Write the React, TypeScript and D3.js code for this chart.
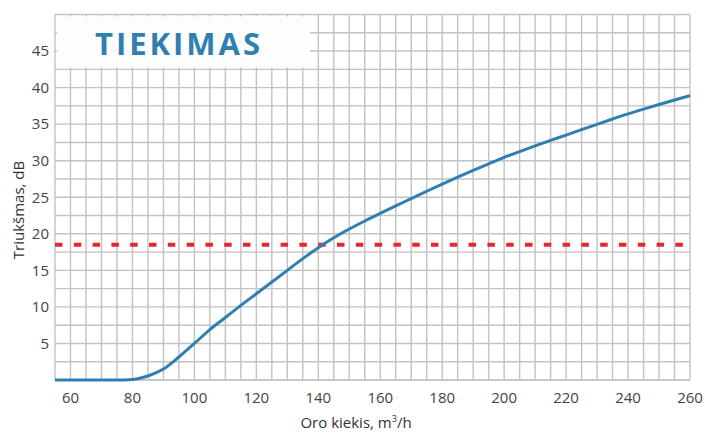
import React from "react";
import * as d3 from "d3";

const airflow = [55, 60, 65, 70, 75, 80, 85, 90, 95, 100, 105, 110, 115, 120, 125, 130, 135, 140, 145, 150, 155, 160, 165, 170, 175, 180, 185, 190, 195, 200, 205, 210, 215, 220, 225, 230, 235, 240, 245, 250, 255, 260];
const noise = [0, 0, 0, 0, 0, 0.08, 0.55, 1.5, 3.15, 5.0, 6.9, 8.55, 10.2, 11.8, 13.4, 15.0, 16.6, 18.1, 19.45, 20.65, 21.75, 22.8, 23.82, 24.82, 25.82, 26.8, 27.75, 28.67, 29.57, 30.45, 31.25, 32.03, 32.78, 33.5, 34.25, 34.98, 35.7, 36.4, 37.05, 37.68, 38.3, 38.9];
const limitLevel = 18.5;
const xTicks = [60, 80, 100, 120, 140, 160, 180, 200, 220, 240, 260];
const yTicks = [5, 10, 15, 20, 25, 30, 35, 40, 45];
const title = "TIEKIMAS";
const xTitle = "Oro kiekis, m";
const yTitle = "Triukšmas, dB";

export default function App() {
  const W = 705, H = 433;
  const x = d3.scaleLinear().domain([55, 260]).range([55, 690]);
  const y = d3.scaleLinear().domain([0, 50]).range([380, 14.5]);
  const xGrid = d3.range(55, 260.01, 5);
  const yGrid = d3.range(0, 50.01, 2.5);
  const line = d3
    .line<number>()
    .x((_, i) => x(airflow[i]))
    .y((d) => y(d))
    .curve(d3.curveMonotoneX);
  const font = "'Open Sans', 'Noto Sans', sans-serif";
  return (
    <svg
      width={W}
      height={H}
      style={{ position: "absolute", left: 0, top: 0, background: "#fff" }}
      fontFamily={font}
    >
      <g stroke="#c2c2c2" strokeWidth={1.4}>
        {xGrid.map((v) => (
          <line key={"gx" + v} x1={x(v)} x2={x(v)} y1={y(50)} y2={y(0)} />
        ))}
        {yGrid.map((v) => (
          <line key={"gy" + v} x1={x(55)} x2={x(260)} y1={y(v)} y2={y(v)} />
        ))}
      </g>
      <line x1={x(55)} x2={x(260)} y1={y(0)} y2={y(0)} stroke="#c8c8c8" strokeWidth={2} />
      <rect x={57} y={16.5} width={253} height={51} fill="#fdfdfd" />
      <text
        x={179}
        y={55}
        textAnchor="middle"
        fontSize={31}
        fontWeight={700}
        letterSpacing={3}
        fill="#2f80b1"
      >
        {title}
      </text>
      <line
        x1={x(55)}
        x2={683}
        y1={y(limitLevel)}
        y2={y(limitLevel)}
        stroke="#e8262b"
        strokeWidth={4}
        strokeDasharray="7.5,11.3"
      />
      <path d={line(noise) || ""} fill="none" stroke="#2f7fb0" strokeWidth={3} strokeLinejoin="round" />
      <g fontSize={15} fill="#444">
        {yTicks.map((v) => (
          <text key={"yt" + v} x={49} y={y(v)} dy="0.35em" textAnchor="end">
            {v}
          </text>
        ))}
        {xTicks.map((v) => (
          <text key={"xt" + v} x={x(v)} y={403} textAnchor="middle">
            {v}
          </text>
        ))}
      </g>
      <text x={356} y={428} textAnchor="middle" fontSize={15} fill="#333">
        {xTitle}
        <tspan dy={-6} fontSize={9}>3</tspan>
        <tspan dy={6}>/h</tspan>
      </text>
      <text
        transform={`translate(24, 210) rotate(-90)`}
        textAnchor="middle"
        fontSize={15}
        fill="#333"
      >
        {yTitle}
      </text>
    </svg>
  );
}
